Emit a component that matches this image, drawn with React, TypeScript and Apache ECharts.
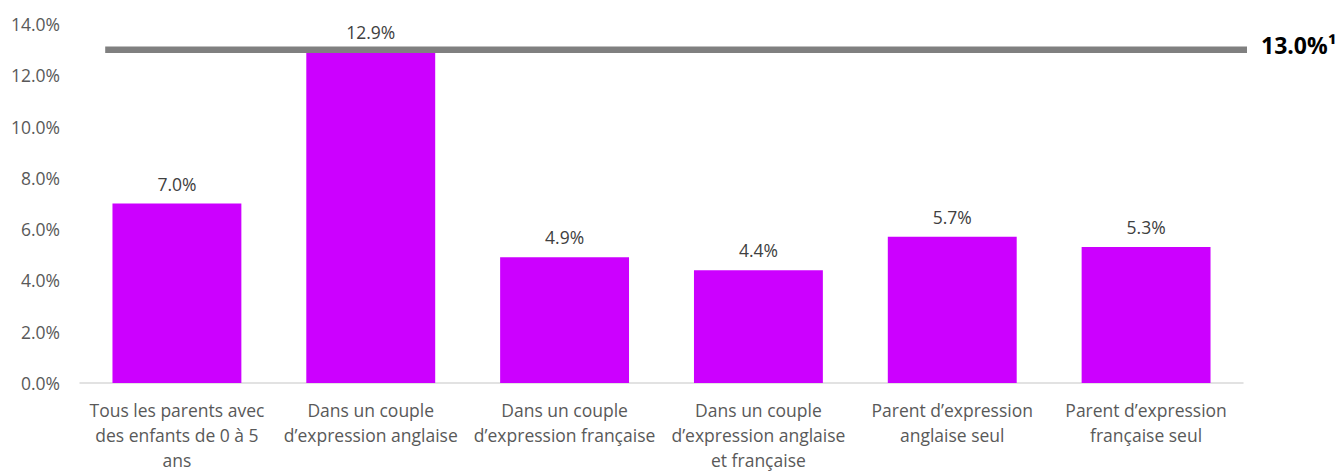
import React, { useEffect, useRef } from "react";
import * as echarts from "echarts";

const categories = [
  "Tous les parents avec\ndes enfants de 0 à 5\nans",
  "Dans un couple\nd’expression anglaise",
  "Dans un couple\nd’expression française",
  "Dans un couple\nd’expression anglaise\net française",
  "Parent d’expression\nanglaise seul",
  "Parent d’expression\nfrançaise seul",
];
const values = [7.0, 12.9, 4.9, 4.4, 5.7, 5.3];
const referenceValue = 13.0;
const referenceLabel = "13.0%¹";
const referenceSpan = [-0.37, 5.56];

const FONT = "'Open Sans', Lato, sans-serif";

export default function App() {
  const ref = useRef<HTMLDivElement>(null);
  useEffect(() => {
    if (!ref.current) return;
    const chart = echarts.init(ref.current, null, { renderer: "svg" });
    chart.setOption({
      animation: false,
      textStyle: { fontFamily: FONT },
      grid: { left: 80, right: 101, top: 24, bottom: 86, containLabel: false },
      xAxis: [
        {
          type: "category",
          data: categories,
          axisLine: { show: true, lineStyle: { color: "#d9d9d9", width: 1.5 } },
          axisTick: { show: false },
          axisLabel: {
            interval: 0,
            color: "#595959",
            fontSize: 17.5,
            lineHeight: 25,
            margin: 14,
            fontFamily: FONT,
          },
        },
        {
          type: "value",
          min: -0.5,
          max: 5.5,
          show: false,
        },
      ],
      yAxis: {
        type: "value",
        min: 0,
        max: 14,
        interval: 2,
        axisLine: { show: false },
        axisTick: { show: false },
        splitLine: { show: false },
        axisLabel: {
          color: "#595959",
          fontSize: 17.5,
          margin: 20,
          fontFamily: FONT,
          formatter: (v: number) => v.toFixed(1) + "%",
        },
      },
      series: [
        {
          type: "bar",
          data: values,
          barCategoryGap: "33.5%",
          itemStyle: { color: "#CC00FF" },
          label: {
            show: true,
            position: "top",
            distance: 11,
            color: "#404040",
            fontSize: 17.5,
            fontFamily: FONT,
            formatter: (p: any) => Number(p.value).toFixed(1) + "%",
          },
        },
        {
          type: "line",
          xAxisIndex: 1,
          clip: false,
          data: [
            [referenceSpan[0], referenceValue],
            [referenceSpan[1], referenceValue],
          ],
          symbol: "none",
          lineStyle: { color: "#808080", width: 6.5, cap: "butt" },
          endLabel: {
            show: true,
            distance: 14,
            offset: [0, -5],
            formatter: referenceLabel,
            color: "#000000",
            fontWeight: "bold",
            fontSize: 23,
            fontFamily: FONT,
          },
          z: 5,
        },
      ],
    });
    return () => chart.dispose();
  }, []);
  return (
    <div
      ref={ref}
      style={{ position: "absolute", left: 0, top: 0, width: 1344, height: 472 }}
    />
  );
}
